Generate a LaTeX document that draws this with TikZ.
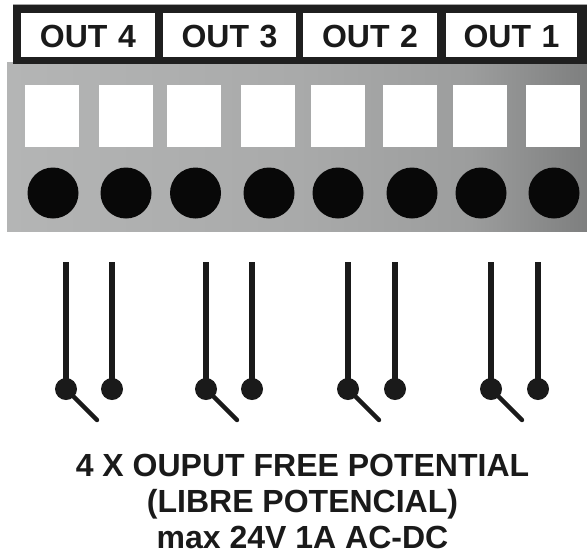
\documentclass[tikz,border=0pt]{standalone}
\usepackage{fontspec}
\setmainfont{Liberation Sans}
\definecolor{ink}{HTML}{1A1A1A}
\definecolor{panelL}{HTML}{B4B5B5}
\definecolor{panelA}{HTML}{A9AAAA}
\definecolor{panelM}{HTML}{9C9D9D}
\definecolor{panelR}{HTML}{7E7F7F}
\pgfdeclarehorizontalshading{panelgrad}{100bp}{
  color(0bp)=(panelL); color(25bp)=(panelL); color(50bp)=(panelA); color(65bp)=(panelM); color(75bp)=(panelR); color(100bp)=(panelR)}
\tikzset{
  x=0.5pt,y=-0.5pt,
  label box/.style={fill=white,draw=none,text width=#1*0.5pt,align=center,text height=17pt,text depth=5pt,inner sep=0pt,
    font=\fontsize{16}{16}\selectfont\bfseries,text=ink},
  term box/.style={fill=white,draw=none,minimum width=27pt,minimum height=31pt,inner sep=0pt},
  hole/.style={circle,fill=black!97,draw=none,minimum size=25.5pt,inner sep=0pt},
  contact/.style={circle,fill=ink,draw=none,minimum size=11pt,inner sep=0pt},
  wire/.style={draw=ink,line width=2.8pt},
  arm/.style={draw=ink,line width=2.2pt,line cap=round},
  caption/.style={font=\fontsize{16}{18}\selectfont\bfseries,text=ink,align=center,inner sep=0pt}
}
\begin{document}
\begin{tikzpicture}
\useasboundingbox (0,0) rectangle (587,553);
% panel
\shade[shading=panelgrad] (7,62) rectangle (587,231);
% header frame
\fill[black!88] (13,5) rectangle (587,64);
\draw[black!35,line width=0.4pt] (13,4.5) -- (587,4.5);
\node[label box=134] (o4) at (88,35) {OUT 4};
\node[label box=133] (o3) at (229.5,35) {OUT 3};
\node[label box=134] (o2) at (370,35) {OUT 2};
\node[label box=131] (o1) at (511.5,35) {OUT 1};
% terminals
\foreach \n/\x in {1/52,2/126,3/194,4/268,5/338,6/410,7/480,8/552.5}
  \node[term box] (t\n) at (\x,116) {};
\foreach \n/\x in {1/53,2/126,3/195.5,4/269,5/338,6/412,7/481,8/554}
  \node[hole] (h\n) at (\x,193) {};
% switches
\foreach \n/\xa/\xb in {1/66/112,2/206/252,3/348/395,4/491/538}{
  \coordinate (ta\n) at (\xa,262);
  \coordinate (tb\n) at (\xb,262);
  \node[contact] (ca\n) at (\xa,389) {};
  \node[contact] (cb\n) at (\xb,389) {};
  \coordinate (e\n) at ([shift={(31,31)}]ca\n.center);
  \draw[wire] (ta\n) -- (ca\n.center);
  \draw[wire] (tb\n) -- (cb\n.center);
  \draw[arm] (ca\n.center) -- (e\n);
}
\node[caption] (cap) at (302.5,501) {4 X OUPUT FREE POTENTIAL\\(LIBRE POTENCIAL)\\max 24V 1A AC-DC};
\end{tikzpicture}
\end{document}
